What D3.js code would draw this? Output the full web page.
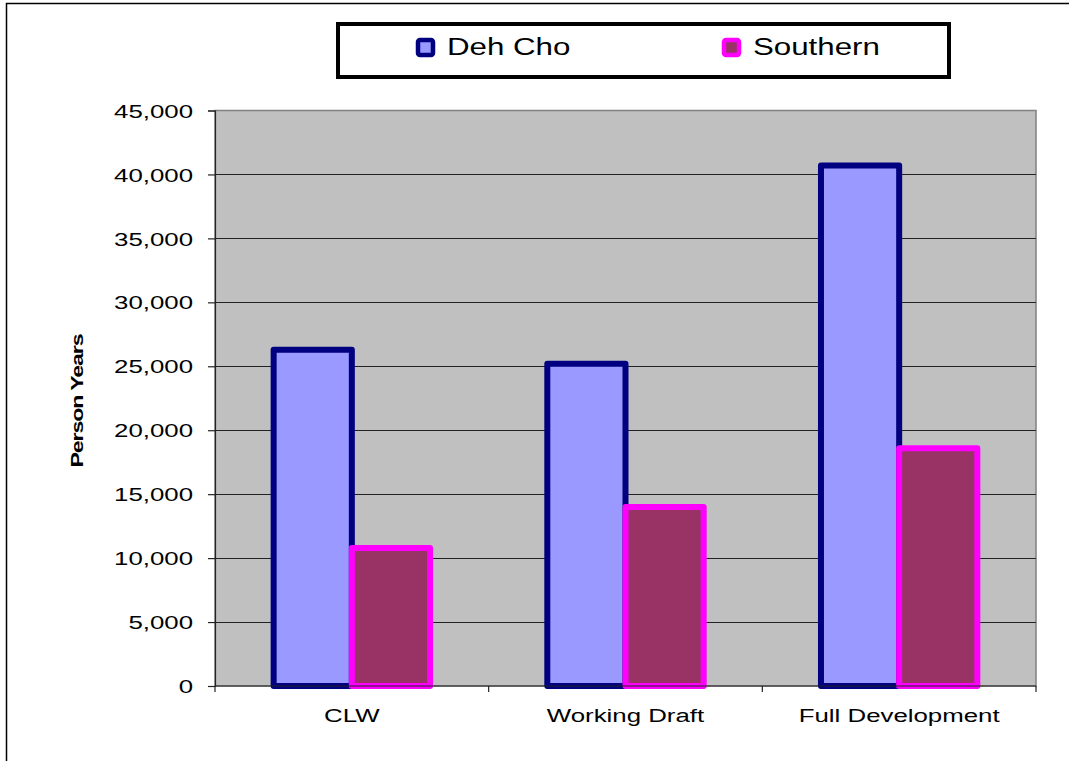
<!DOCTYPE html>
<html>
<head>
<meta charset="utf-8">
<script src="https://d3js.org/d3.v7.min.js"></script>
<style>
  body { margin: 0; background: #fff; }
  svg text { font-family: Arial, "Liberation Sans", sans-serif; }
</style>
</head>
<body>
<div id="chart"></div>
<script>
var categories = ["CLW", "Working Draft", "Full Development"];
var seriesNames = ["Deh Cho", "Southern"];
var dehCho = [26300, 25200, 40700];
var southern = [10800, 14000, 18600];
var yTicks = [0, 5000, 10000, 15000, 20000, 25000, 30000, 35000, 40000, 45000];

var width = 1069;
var height = 761;

var fills = { "Deh Cho": "#9999ff", "Southern": "#993366" };
var strokes = { "Deh Cho": "#000080", "Southern": "#ff00ff" };

// the original text is drawn noticeably wider than Arial
var stretch = 1.36;

var plot = { left: 215, top: 110.5, right: 1036, bottom: 686 };

var svg = d3.select("#chart").append("svg")
  .attr("width", width)
  .attr("height", height);

// chart area border
svg.append("rect")
  .attr("x", 6.5).attr("y", 3.5)
  .attr("width", width + 20).attr("height", height + 20)
  .attr("fill", "#fff")
  .attr("stroke", "#000")
  .attr("stroke-width", 1.5);

var x0 = d3.scaleBand()
  .domain(categories)
  .range([plot.left, plot.right]);

// 150% gap width like the original
var x1 = d3.scaleBand()
  .domain(seriesNames)
  .range([0, x0.bandwidth() * 2 / 3.5]);

var y = d3.scaleLinear()
  .domain([0, 45000])
  .range([plot.bottom, plot.top]);

// plot background
svg.append("rect")
  .attr("x", plot.left).attr("y", plot.top)
  .attr("width", plot.right - plot.left)
  .attr("height", plot.bottom - plot.top)
  .attr("fill", "#c0c0c0")
  .attr("stroke", "#808080")
  .attr("stroke-width", 1.5);

// gridlines
svg.append("g")
  .selectAll("line")
  .data(yTicks.filter(function(d) { return d > 0 && d < 45000; }))
  .enter().append("line")
  .attr("x1", plot.left).attr("x2", plot.right)
  .attr("y1", function(d) { return Math.round(y(d)) + 0.5; })
  .attr("y2", function(d) { return Math.round(y(d)) + 0.5; })
  .attr("stroke", "#222")
  .attr("stroke-width", 1.2);

// y axis
var yAxis = d3.axisLeft(y)
  .tickValues(yTicks)
  .tickSize(7)
  .tickPadding(14)
  .tickFormat(d3.format(","));

var gy = svg.append("g")
  .attr("transform", "translate(" + plot.left + ",0)")
  .call(yAxis);
gy.select(".domain").attr("stroke", "#222").attr("stroke-width", 1.2);
gy.selectAll(".tick line").attr("stroke", "#222").attr("stroke-width", 1.2);
gy.selectAll("text")
  .attr("x", 0)
  .attr("transform", "translate(-22,0) scale(" + stretch + ",1)")
  .attr("font-size", 19)
  .attr("fill", "#000")
  .attr("dy", "0.35em");

// bars
var data = categories.map(function(c, i) {
  return { cat: c, values: [
    { name: "Deh Cho", value: dehCho[i] },
    { name: "Southern", value: southern[i] }
  ]};
});

var groups = svg.append("g").selectAll("g")
  .data(data)
  .enter().append("g")
  .attr("transform", function(d) {
    var off = (x0.bandwidth() - x1.range()[1]) / 2;
    return "translate(" + (x0(d.cat) + off) + ",0)";
  });

groups.selectAll("rect")
  .data(function(d) { return d.values; })
  .enter().append("rect")
  .attr("x", function(d) { return x1(d.name); })
  .attr("y", function(d) { return y(d.value); })
  .attr("width", x1.bandwidth())
  .attr("height", function(d) { return y(0) - y(d.value); })
  .attr("fill", function(d) { return fills[d.name]; })
  .attr("stroke", function(d) { return strokes[d.name]; })
  .attr("stroke-width", 6)
  .attr("stroke-linejoin", "round");

// x axis
var gx = svg.append("g")
  .attr("transform", "translate(0," + plot.bottom + ")");
gx.append("line")
  .attr("x1", plot.left).attr("x2", plot.right)
  .attr("y1", 0).attr("y2", 0)
  .attr("stroke", "#222").attr("stroke-width", 1.2);
gx.selectAll("line.tk")
  .data(categories.concat(["end"]))
  .enter().append("line")
  .attr("class", "tk")
  .attr("x1", function(d, i) { return plot.left + i * x0.step(); })
  .attr("x2", function(d, i) { return plot.left + i * x0.step(); })
  .attr("y1", 0).attr("y2", 6)
  .attr("stroke", "#222").attr("stroke-width", 1.2);
gx.selectAll("text")
  .data(categories)
  .enter().append("text")
  .attr("transform", function(d) {
    return "translate(" + (x0(d) + x0.bandwidth() / 2) + ",36) scale(" + stretch + ",1)";
  })
  .attr("text-anchor", "middle")
  .attr("font-size", 19)
  .text(function(d) { return d; });

// y axis title
svg.append("text")
  .attr("transform", "translate(83,401) rotate(-90) scale(" + stretch + ",1)")
  .attr("text-anchor", "middle")
  .attr("font-size", 17)
  .attr("font-weight", "bold")
  .attr("letter-spacing", "-0.8")
  .text("Person Years");

// legend
var legend = svg.append("g");
legend.append("rect")
  .attr("x", 338).attr("y", 24)
  .attr("width", 611).attr("height", 53)
  .attr("fill", "#fff")
  .attr("stroke", "#000")
  .attr("stroke-width", 4);

var legendX = [416, 722];
var items = legend.selectAll("g.item")
  .data(seriesNames)
  .enter().append("g")
  .attr("class", "item")
  .attr("transform", function(d, i) { return "translate(" + legendX[i] + ",38)"; });

items.append("rect")
  .attr("x", 2).attr("y", 2)
  .attr("width", 15).attr("height", 15)
  .attr("rx", 2)
  .attr("fill", function(d) { return fills[d]; })
  .attr("stroke", function(d) { return strokes[d]; })
  .attr("stroke-width", 4.5);

items.append("text")
  .attr("transform", "translate(31,9) scale(" + stretch + ",1)")
  .attr("dy", "0.36em")
  .attr("font-size", 23)
  .text(function(d) { return d; });
</script>
</body>
</html>
